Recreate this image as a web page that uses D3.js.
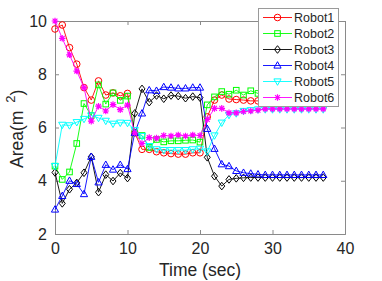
<!DOCTYPE html>
<html>
<head>
<meta charset="utf-8">
<script src="https://cdn.jsdelivr.net/npm/d3@7"></script>
<style>
  body { margin: 0; background: #fff; }
  text { font-family: "Liberation Sans", Arial, sans-serif; }
</style>
</head>
<body>
<svg id="chart"></svg>
<script>
const width = 382;
const height = 281;

// time steps (sec)
const time = [0,1,2,3,4,5,6,7,8,9,10,11,12,13,14,15,16,17,18,19,20,21,22,23,24,25,26,27,28,29,30,31,32,33,34,35,36,37];

const robot1 = [9.7,9.85,9.0,8.38,7.5,7.03,7.75,7.22,7.3,7.19,7.28,5.8,5.18,5.18,5.09,5.05,5.02,5.0,5.0,5.05,5.05,6.4,7.03,7.22,7.07,7.05,7.03,7.0,7.0,7.0,7.0,7.0,7.0,7.0,7.0,7.0,7.0,7.0];
const robot2 = [4.55,4.05,4.33,5.4,6.9,6.45,7.6,6.88,7.3,7.02,7.18,5.8,5.7,5.25,5.55,5.46,5.5,5.5,5.52,5.53,5.45,6.85,7.15,7.35,7.25,7.4,7.22,7.38,7.28,7.3,7.3,7.3,7.3,7.3,7.3,7.3,7.3,7.3];
const robot3 = [4.31,3.15,3.68,3.92,4.3,4.9,3.57,4.23,3.99,4.29,4.1,6.53,7.45,6.95,7.2,7.08,7.2,7.18,7.1,7.16,7.12,4.88,4.17,3.8,4.05,4.09,4.11,4.12,4.12,4.12,4.12,4.12,4.12,4.12,4.12,4.12,4.12,4.12];
const robot4 = [2.92,3.43,4.0,3.88,3.5,4.9,3.94,4.6,4.42,4.6,4.44,5.8,6.53,7.4,7.38,7.52,7.5,7.47,7.47,7.5,7.5,5.95,5.2,4.62,4.55,4.37,4.3,4.27,4.24,4.22,4.22,4.22,4.22,4.22,4.22,4.22,4.22,4.22];
const robot5 = [4.55,6.1,6.08,6.2,6.32,6.45,6.36,6.25,6.14,6.18,6.17,5.9,5.68,5.3,5.18,5.15,5.15,5.15,5.15,5.18,5.2,5.1,5.7,6.18,6.47,6.53,6.62,6.65,6.68,6.68,6.68,6.68,6.68,6.68,6.68,6.68,6.68,6.68];
const robot6 = [10.0,9.35,8.73,8.12,7.5,6.24,6.8,6.62,6.86,6.67,6.84,5.8,5.4,5.62,5.6,5.7,5.68,5.72,5.68,5.72,5.7,6.3,6.72,6.72,6.55,6.55,6.6,6.62,6.65,6.7,6.7,6.7,6.7,6.7,6.7,6.7,6.7,6.7];

const names = ["Robot1","Robot2","Robot3","Robot4","Robot5","Robot6"];
const colors = ["#ff0000","#00ff00","#000000","#0000ff","#00ffff","#ff00ff"];
const markers = ["circle","square","diamond","triUp","triDown","star"];
const allSeries = [robot1, robot2, robot3, robot4, robot5, robot6];

const xTicks = [0,10,20,30,40];
const yTicks = [2,4,6,8,10];

const plotL = 55, plotR = 345, plotT = 21, plotB = 234;

const svg = d3.select("#chart")
    .attr("width", width)
    .attr("height", height);

const x = d3.scaleLinear().domain([0, 40]).range([plotL, plotR]);
const y = d3.scaleLinear().domain([2, 10]).range([plotB, plotT]);

// axes box, ticks inward like matlab
const axisColor = "#8a8a8a";
svg.append("g").attr("transform", `translate(0,${plotB})`)
    .call(d3.axisBottom(x).tickValues(xTicks).tickSize(-4).tickPadding(9))
    .call(g => g.selectAll("text").attr("font-size", 16).attr("fill", "#262626"));
svg.append("g").attr("transform", `translate(${plotL},0)`)
    .call(d3.axisLeft(y).tickValues(yTicks).tickSize(-4).tickPadding(8))
    .call(g => g.selectAll("text").attr("font-size", 16).attr("fill", "#262626"));
svg.append("g").attr("transform", `translate(0,${plotT})`)
    .call(d3.axisTop(x).tickValues(xTicks).tickSize(-4).tickFormat(""));
svg.append("g").attr("transform", `translate(${plotR},0)`)
    .call(d3.axisRight(y).tickValues(yTicks).tickSize(-4).tickFormat(""));
svg.selectAll(".domain, .tick line").attr("stroke", axisColor);

// axis labels
svg.append("text")
    .attr("x", (plotL + plotR) / 2).attr("y", 276)
    .attr("text-anchor", "middle").attr("font-size", 17.5).attr("fill", "#262626")
    .text("Time (sec)");

const yl = svg.append("text")
    .attr("transform", `translate(23,168) rotate(-90)`)
    .attr("text-anchor", "start").attr("font-size", 17.5).attr("fill", "#262626");
yl.append("tspan").text("Area(m");
yl.append("tspan").attr("font-size", 13).attr("dx", 8).attr("dy", -8).text("2");
yl.append("tspan").attr("dy", 8).text(")");

function drawMarker(g, type, cx, cy, color) {
    const s = 3.3;
    if (type === "circle") {
        g.append("circle").attr("cx", cx).attr("cy", cy).attr("r", s)
            .attr("fill", "none").attr("stroke", color);
    } else if (type === "square") {
        g.append("rect").attr("x", cx - 2.8).attr("y", cy - 2.8).attr("width", 5.6).attr("height", 5.6)
            .attr("fill", "none").attr("stroke", color);
    } else if (type === "diamond") {
        g.append("path").attr("d", `M${cx},${cy-3.8}L${cx+3},${cy}L${cx},${cy+3.8}L${cx-3},${cy}Z`)
            .attr("fill", "none").attr("stroke", color);
    } else if (type === "triUp") {
        g.append("path").attr("d", `M${cx},${cy-3.8}L${cx+3.6},${cy+2.6}L${cx-3.6},${cy+2.6}Z`)
            .attr("fill", "none").attr("stroke", color);
    } else if (type === "triDown") {
        g.append("path").attr("d", `M${cx},${cy+3.8}L${cx+3.6},${cy-2.6}L${cx-3.6},${cy-2.6}Z`)
            .attr("fill", "none").attr("stroke", color);
    } else if (type === "star") {
        const a = 2.4;
        g.append("path")
            .attr("d", `M${cx-s},${cy}L${cx+s},${cy}M${cx},${cy-s}L${cx},${cy+s}M${cx-a},${cy-a}L${cx+a},${cy+a}M${cx-a},${cy+a}L${cx+a},${cy-a}`)
            .attr("fill", "none").attr("stroke", color).attr("stroke-width", 1.2);
    }
}

const line = d3.line().x((d, i) => x(time[i])).y(d => y(d));

allSeries.forEach((vals, k) => {
    const g = svg.append("g");
    g.append("path").datum(vals)
        .attr("d", line)
        .attr("fill", "none")
        .attr("stroke", colors[k])
        .attr("stroke-width", 0.9);
    vals.forEach((v, i) => drawMarker(g, markers[k], x(time[i]), y(v), colors[k]));
});

// legend
const lg = svg.append("g");
lg.append("rect").attr("x", 258.5).attr("y", 8.5).attr("width", 80).attr("height", 98)
    .attr("fill", "#fff").attr("stroke", "#9a9a9a");
names.forEach((n, k) => {
    const ly = 17.5 + k * 16;
    lg.append("line").attr("x1", 263).attr("x2", 292).attr("y1", ly).attr("y2", ly)
        .attr("stroke", colors[k]).attr("stroke-width", 0.9);
    drawMarker(lg, markers[k], 277.5, ly, colors[k]);
    lg.append("text").attr("x", 294).attr("y", ly + 4.5)
        .attr("font-size", 12.5).attr("fill", "#262626").text(n);
});
</script>
</body>
</html>
